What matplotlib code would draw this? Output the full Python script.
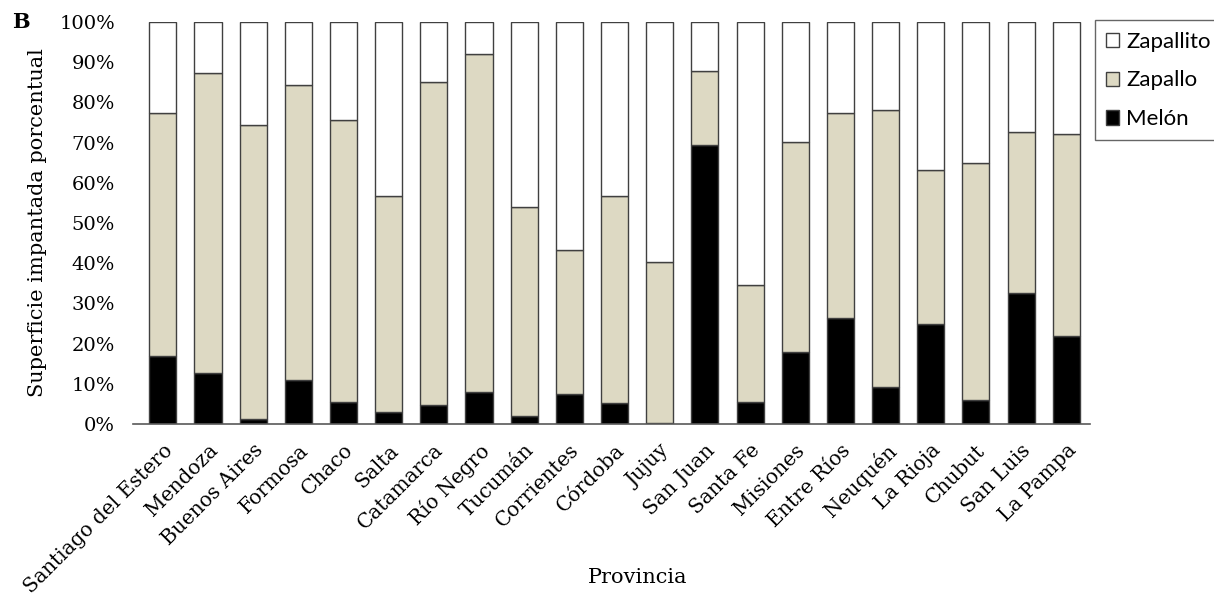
import matplotlib
matplotlib.use("Agg")
import numpy as np
import matplotlib.pyplot as plt
from matplotlib.ticker import PercentFormatter, MultipleLocator

provincias = ["Santiago del Estero", "Mendoza", "Buenos Aires", "Formosa", "Chaco",
              "Salta", "Catamarca", "Río Negro", "Tucumán", "Corrientes", "Córdoba",
              "Jujuy", "San Juan", "Santa Fe", "Misiones", "Entre Ríos", "Neuquén",
              "La Rioja", "Chubut", "San Luis", "La Pampa"]

# superficie implantada (%) por cultivo
melon = [16.9, 12.6, 1.3, 10.9, 5.4, 3.0, 4.7, 7.9, 2.1, 7.4, 5.3,
         0.3, 69.4, 5.6, 17.8, 26.3, 9.1, 24.9, 6.0, 32.6, 21.9]
zapallo = [60.5, 74.7, 73.2, 73.4, 70.2, 53.8, 80.3, 84.1, 51.8, 35.9, 51.5,
           40.0, 18.4, 28.9, 52.3, 51.1, 68.9, 38.3, 58.9, 40.1, 50.2]
zapallito = [22.6, 12.7, 25.5, 15.7, 24.4, 43.2, 15.0, 8.0, 46.1, 56.7, 43.2,
             59.7, 12.2, 65.5, 29.9, 22.6, 22.0, 36.8, 35.1, 27.3, 27.9]

serif = ["DejaVu Serif"]
edge = "#404040"

fig = plt.figure(figsize=(12.14, 6), dpi=100)
ax = fig.add_axes([0.1096, 0.2933, 0.7884, 0.67])

x = np.arange(len(provincias))
w = 0.6
base2 = np.array(melon)
base3 = base2 + np.array(zapallo)
ax.bar(x, melon, w, color="black", edgecolor=edge, linewidth=1, label="Melón")
ax.bar(x, zapallo, w, bottom=base2, color="#DDD9C3", edgecolor=edge, linewidth=1, label="Zapallo")
ax.bar(x, zapallito, w, bottom=base3, color="white", edgecolor=edge, linewidth=1, label="Zapallito")

ax.set_xlim(-0.66, 20.53)
ax.set_ylim(0, 100)
ax.yaxis.set_major_locator(MultipleLocator(10))
ax.yaxis.set_major_formatter(PercentFormatter(decimals=0))
for s in ["top", "right", "left"]:
    ax.spines[s].set_visible(False)
ax.spines["bottom"].set_color("#595959")
ax.spines["bottom"].set_linewidth(1.2)
ax.tick_params(axis="y", length=0, pad=13)
ax.tick_params(axis="x", length=0, pad=12)
ax.set_xticks(x)
ax.set_xticklabels(provincias, rotation=45, ha="right", rotation_mode="anchor")
for lbl in ax.get_xticklabels():
    lbl.set_family(serif)
    lbl.set_fontsize(14.5)
for lbl in ax.get_yticklabels():
    lbl.set_family(serif)
    lbl.set_fontsize(14)

ax.set_ylabel("Superficie impantada porcentual", family=serif, fontsize=15)
ax.yaxis.set_label_coords(-0.09, 0.5)
fig.text(0.525, 0.037, "Provincia", family=serif, fontsize=15, ha="center", va="center")
fig.text(0.01, 0.963, "B", family=serif, fontsize=15, fontweight="bold", va="center")

h, l = ax.get_legend_handles_labels()
leg = fig.legend(h[::-1], l[::-1], loc="upper left", bbox_to_anchor=(0.902, 0.966),
                 prop={"family": "Lato", "size": 16}, frameon=True, fancybox=False,
                 edgecolor="#404040", handlelength=0.6, handleheight=0.6,
                 handletextpad=0.3, labelspacing=0.85, borderpad=0.5, borderaxespad=0)
leg.get_frame().set_linewidth(1)

fig.savefig("out.png", dpi=100)
